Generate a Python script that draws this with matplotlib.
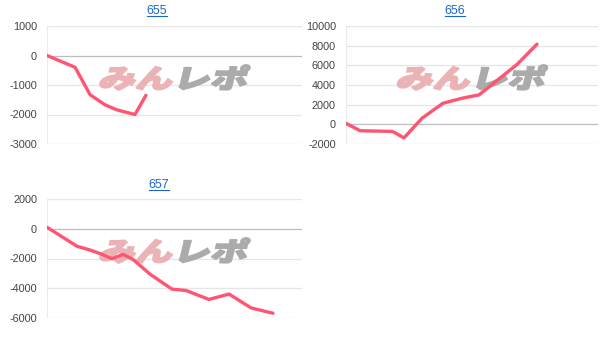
import matplotlib
matplotlib.use('Agg')
import matplotlib.pyplot as plt
from matplotlib.textpath import TextPath
from matplotlib.font_manager import FontProperties
from matplotlib.patches import PathPatch
from matplotlib.transforms import Affine2D, IdentityTransform
from matplotlib.lines import Line2D

plt.rcParams['font.family'] = ['Liberation Sans', 'DejaVu Sans']

# データ (x は横軸上の相対位置 0-100)
titles = ['655', '656', '657']

x_655 = [0, 11, 16.9, 22.7, 27.3, 34.5, 38.8]
y_655 = [0, -400, -1330, -1670, -1840, -2000, -1350]

x_656 = [0, 5.6, 18.3, 19.4, 23, 30.2, 38.5, 46, 52.8, 56, 61.1, 67.9, 75.8]
y_656 = [100, -650, -720, -850, -1380, 630, 2150, 2650, 3000, 3650, 4700, 6100, 8150]

x_657 = [0, 11.8, 16.9, 21.6, 25.5, 29.8, 33.7, 40.4, 49, 54.5, 63.5, 71.4, 80, 88.6]
y_657 = [100, -1180, -1430, -1720, -2020, -1720, -2060, -3050, -4060, -4150, -4750, -4390, -5320, -5680]

yticks_655 = [1000, 0, -1000, -2000, -3000]
yticks_656 = [10000, 8000, 6000, 4000, 2000, 0, -2000]
yticks_657 = [2000, 0, -2000, -4000, -6000]

W, H = 613, 342
fig = plt.figure(figsize=(W / 100, H / 100), dpi=100)

LINE = '#ff5573'
PINK = '#ebb3b6'
GRAY = '#ababab'
BLUE = '#1a66c9'

jp = FontProperties(family='Noto Sans CJK JP', weight='black')


def watermark(ax, left, top, width, height):
    p1 = TextPath((0, 0), 'みん', prop=jp, size=20)
    e1 = p1.get_extents()
    p2 = TextPath((e1.x1 + 1, 0), 'レポ', prop=jp, size=20)
    e2 = p2.get_extents()
    x0, y0 = e1.x0, min(e1.y0, e2.y0)
    x1, y1 = e2.x1, max(e1.y1, e2.y1)
    sx = width / (x1 - x0)
    sy = height / (y1 - y0)
    tr = (Affine2D().translate(-x0, -y0).scale(sx, sy).skew_deg(14, 0)
          .translate(left - 3, H - top - height))
    for p, c in [(p1, PINK), (p2, GRAY)]:
        patch = PathPatch(tr.transform_path(p), facecolor=c, edgecolor=c, lw=1.3,
                          joinstyle='miter', transform=IdentityTransform(),
                          zorder=1, clip_on=False)
        ax.add_artist(patch)


def panel(l, t, r, b, xs, ys, yticks, title, tx, ty):
    ax = fig.add_axes([l / W, 1 - b / H, (r - l) / W, (b - t) / H])
    ax.set_facecolor('none')
    for s in ax.spines.values():
        s.set_visible(False)
    ax.axvline(0, color='#ececec', lw=0.8, zorder=0)
    for v in yticks:
        ax.axhline(v, color='#bdbdbd' if v == 0 else '#e6e6e6', lw=0.9, zorder=0)
    ax.plot(xs, ys, color=LINE, lw=2.4, solid_capstyle='round',
            solid_joinstyle='round', zorder=3)
    ax.set_xlim(0, 100)
    ax.set_ylim(min(yticks), max(yticks))
    ax.set_xticks([])
    ax.set_yticks(yticks)
    ax.set_yticklabels([str(v) for v in yticks])
    ax.tick_params(axis='y', length=0, pad=7.2, labelsize=7.8, labelcolor='#444444')
    cx = (l + r) / 2
    watermark(ax, cx - 73, t + 39, 146, 25)
    txt = fig.text(tx / W, 1 - ty / H, title, ha='center', va='baseline',
                   fontsize=8.9, color=BLUE)
    return ax, txt


texts = []
texts.append(panel(47, 26, 302, 144, x_655, y_655, yticks_655, titles[0], 157, 13.5)[1])
texts.append(panel(346, 26, 598, 144, x_656, y_656, yticks_656, titles[1], 455, 13.5)[1])
texts.append(panel(47, 199, 302, 318, x_657, y_657, yticks_657, titles[2], 159, 187.5)[1])

fig.canvas.draw()
r = fig.canvas.get_renderer()
for t in texts:
    bb = t.get_window_extent(renderer=r)
    fig.add_artist(Line2D([bb.x0, bb.x1], [bb.y0 + 1, bb.y0 + 1], color=BLUE,
                          lw=0.8, transform=IdentityTransform()))

fig.savefig('out.png', dpi=100, facecolor='white')
